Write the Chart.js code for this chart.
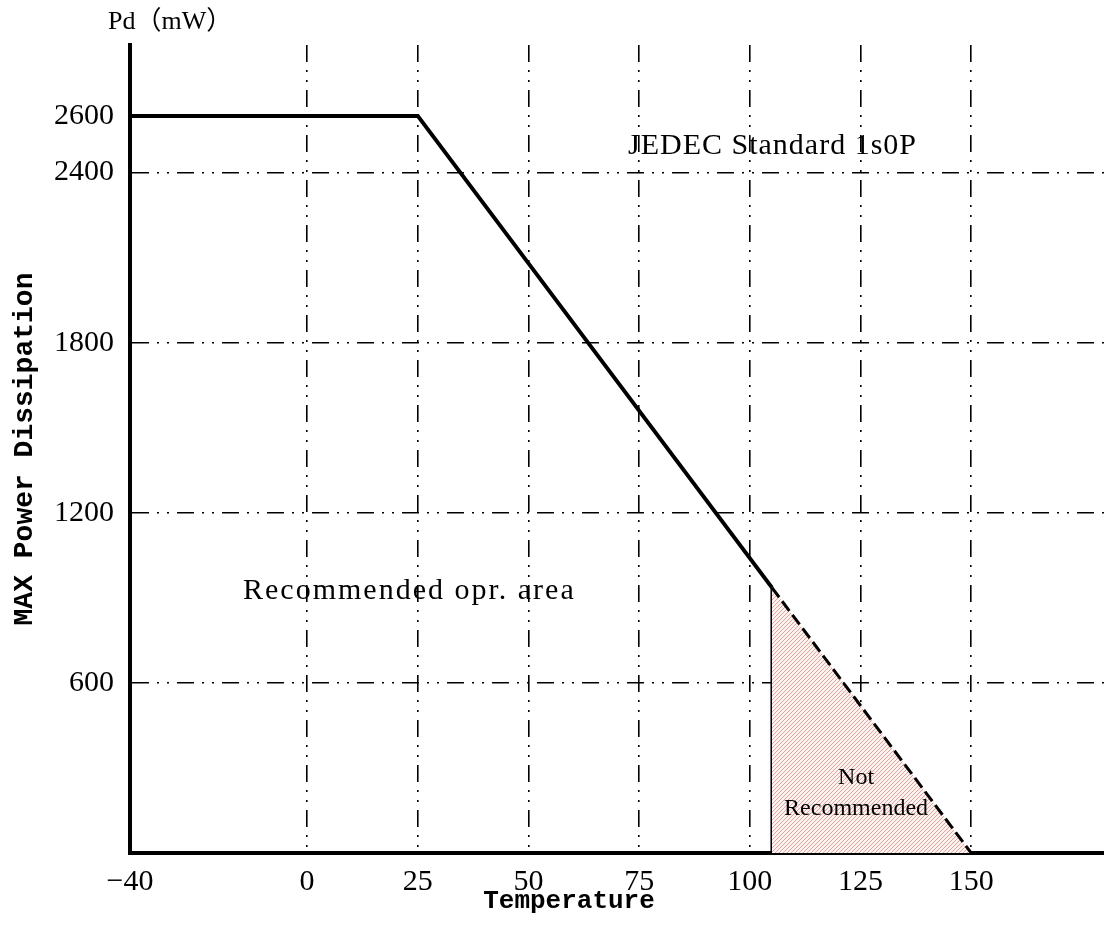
<!DOCTYPE html>
<html>
<head>
<meta charset="utf-8">
<script src="https://cdn.jsdelivr.net/npm/chart.js@4.4.1/dist/chart.umd.min.js"></script>
<style>
    html, body { margin: 0; padding: 0; background: #fff; }
</style>
</head>
<body>
<canvas id="pdChart" width="1104" height="928"></canvas>
<script>
// axis ticks
const tempTicks = [-40, 0, 25, 50, 75, 100, 125, 150];
const powerTicks = [600, 1200, 1800, 2400, 2600];

// derating curve (Ta in degC, Pd in mW)
const ratedTemp = [-40, 25, 105];
const ratedPower = [2600, 2600, 936];

// not recommended part of the curve
const overTemp = [105, 150];
const overPower = [936, 0];

// left edge of the not recommended area
const edgeTemp = [105, 105];
const edgePower = [0, 936];

const toPoints = (xs, ys) => xs.map((x, i) => ({x: x, y: ys[i]}));

function makeHatch() {
    const c = document.createElement('canvas');
    c.width = 4;
    c.height = 4;
    const g = c.getContext('2d');
    g.fillStyle = '#fcf1ef';
    g.fillRect(0, 0, 4, 4);
    g.strokeStyle = '#dba79f';
    g.lineWidth = 1;
    g.beginPath();
    g.moveTo(-1, 5);
    g.lineTo(5, -1);
    g.moveTo(-1, 1);
    g.lineTo(1, -1);
    g.moveTo(3, 5);
    g.lineTo(5, 3);
    g.stroke();
    return g.createPattern(c, 'repeat');
}

const serif = '"Liberation Serif", "Times New Roman", serif';
const mono = '"Liberation Mono", "DejaVu Sans Mono", monospace';

// texts written into the plot
const notes = {
    id: 'notes',
    afterDatasetsDraw(chart) {
        const ctx = chart.ctx;
        const x = chart.scales.x;
        const y = chart.scales.y;
        ctx.save();
        ctx.fillStyle = '#000';
        ctx.textBaseline = 'middle';

        ctx.font = '26px ' + serif + ', "Noto Sans CJK SC"';
        ctx.textAlign = 'left';
        ctx.fillText('Pd（mW）', 108, 22);

        ctx.font = '30px ' + serif;
        ctx.letterSpacing = '1px';
        ctx.fillText('JEDEC Standard 1s0P', 628, 146);
        ctx.letterSpacing = '2px';
        ctx.fillText('Recommended opr. area', 243, 591);

        ctx.font = 'bold 26px ' + mono;
        ctx.letterSpacing = '0px';
        ctx.textAlign = 'center';
        ctx.fillText('Temperature', 569, 901);

        ctx.font = '24px ' + serif;
        const cx = x.getPixelForValue(124);
        ctx.fillText('Not', cx, y.getPixelForValue(265));
        ctx.fillText('Recommended', cx, y.getPixelForValue(155));
        ctx.restore();
    }
};

const gridDash = [17, 8, 2, 8, 2, 8];
const tickText = (v) => v < 0 ? '\u2212' + Math.abs(v) : String(v);

new Chart(document.getElementById('pdChart'), {
    type: 'line',
    data: {
        datasets: [
            {
                label: 'Recommended',
                data: toPoints(ratedTemp, ratedPower),
                borderColor: '#000',
                borderWidth: 4,
                pointRadius: 0,
                fill: false,
                tension: 0
            },
            {
                label: 'Not recommended',
                data: toPoints(overTemp, overPower),
                borderColor: '#000',
                borderWidth: 3,
                borderDash: [12, 5],
                pointRadius: 0,
                fill: 'origin',
                backgroundColor: makeHatch(),
                tension: 0
            },
            {
                label: 'Edge',
                data: toPoints(edgeTemp, edgePower),
                borderColor: '#000',
                borderWidth: 3,
                pointRadius: 0,
                fill: false
            }
        ]
    },
    options: {
        responsive: false,
        animation: false,
        devicePixelRatio: 1,
        layout: {padding: {top: 45, right: 0, left: 0, bottom: 0}},
        plugins: {
            legend: {display: false},
            tooltip: {enabled: false}
        },
        scales: {
            x: {
                type: 'linear',
                min: -40,
                max: 180,
                afterBuildTicks: (scale) => {
                    scale.ticks = tempTicks.map(v => ({value: v}));
                },
                afterFit: (scale) => {
                    scale.height = 75;
                },
                ticks: {
                    color: '#000',
                    padding: 11,
                    font: {family: serif, size: 30},
                    maxRotation: 0,
                    callback: tickText
                },
                grid: {
                    color: '#000',
                    lineWidth: 1.6,
                    drawTicks: false
                },
                border: {
                    display: true,
                    color: '#000',
                    width: 4,
                    dash: gridDash
                }
            },
            y: {
                type: 'linear',
                min: 0,
                max: 2850,
                afterBuildTicks: (scale) => {
                    scale.ticks = powerTicks.map(v => ({value: v}));
                },
                afterFit: (scale) => {
                    scale.width = 130;
                },
                ticks: {
                    color: '#000',
                    padding: 16,
                    font: {family: serif, size: 30},
                    callback: tickText
                },
                grid: {
                    color: (ctx) => (ctx.tick && ctx.tick.value === 2600) ? 'rgba(0,0,0,0)' : '#000',
                    lineWidth: 1.6,
                    drawTicks: false
                },
                border: {
                    display: true,
                    color: '#000',
                    width: 4,
                    dash: gridDash
                },
                title: {
                    display: true,
                    text: 'MAX Power Dissipation',
                    color: '#000',
                    font: {family: mono, size: 28, weight: 'bold'},
                    padding: {top: 8, bottom: 0}
                }
            }
        }
    },
    plugins: [notes]
});
</script>
</body>
</html>
